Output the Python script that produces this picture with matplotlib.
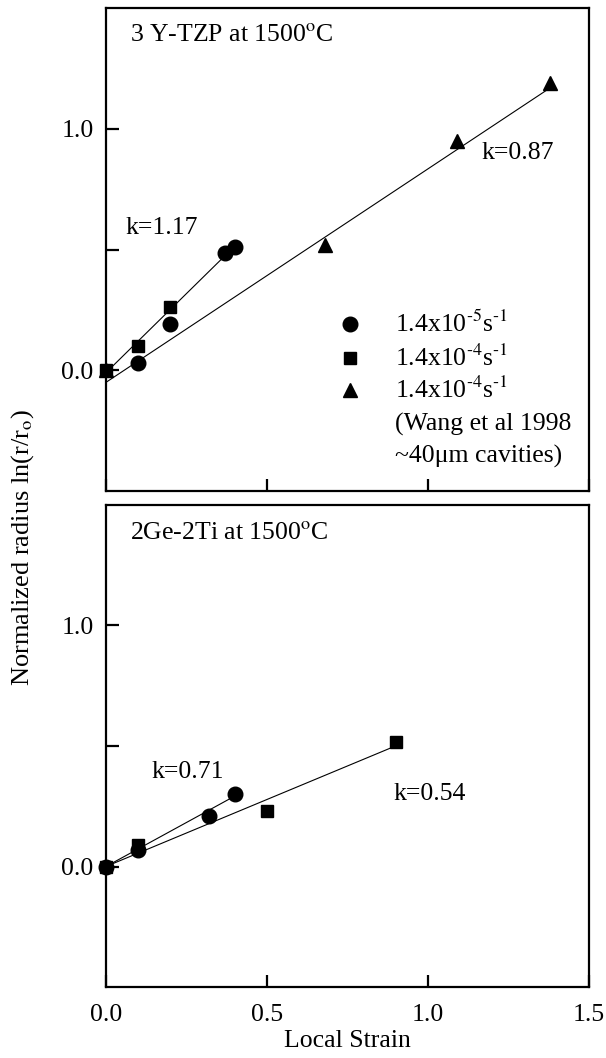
import matplotlib
matplotlib.use("Agg")
import matplotlib.pyplot as plt

plt.rcParams['font.family'] = ['Liberation Serif', 'DejaVu Serif']
plt.rcParams['mathtext.fontset'] = 'stix'

# ---- Data: top panel (3 Y-TZP) ----
top_circ_x = [0.10, 0.20, 0.37, 0.40]
top_circ_y = [0.03, 0.19, 0.485, 0.51]
top_sq_x = [0.0, 0.10, 0.20]
top_sq_y = [0.0, 0.10, 0.26]
top_tri_x = [0.0, 0.68, 1.09, 1.38]
top_tri_y = [0.0, 0.52, 0.95, 1.19]
top_fit1_x = [0.0, 0.37]      # k=1.17
top_fit1_y = [-0.01, 0.475]
top_fit2_x = [0.0, 1.38]      # k=0.87
top_fit2_y = [-0.05, 1.17]

# ---- Data: bottom panel (2Ge-2Ti) ----
bot_circ_x = [0.0, 0.10, 0.32, 0.40]
bot_circ_y = [0.0, 0.07, 0.21, 0.30]
bot_sq_x = [0.0, 0.10, 0.50, 0.90]
bot_sq_y = [0.0, 0.09, 0.23, 0.515]
bot_fit1_x = [0.0, 0.39]      # k=0.71
bot_fit1_y = [0.0, 0.285]
bot_fit2_x = [0.0, 0.89]      # k=0.54
bot_fit2_y = [0.0, 0.495]

legend_labels = [r"1.4x10$^{\text{-5}}$s$^{\text{-1}}$", r"1.4x10$^{\text{-4}}$s$^{\text{-1}}$",
                 r"1.4x10$^{\text{-4}}$s$^{\text{-1}}$",
                 "(Wang et al 1998", "~40\u03bcm cavities)"]

xticks = [0.0, 0.5, 1.0, 1.5]
xticklabels = ["0.0", "0.5", "1.0", "1.5"]
yticks = [0.0, 0.5, 1.0]
yticklabels = ["0.0", "", "1.0"]

FS = 18.5
fig = plt.figure(figsize=(6.06, 10.58), dpi=100)
ax1 = fig.add_axes([0.1749, 0.5359, 0.797, 0.4565])
ax2 = fig.add_axes([0.1749, 0.0671, 0.797, 0.4556])

ms_c, ms_s, ms_t = 10.5, 8.5, 9.5
lw_fit = 0.8

for ax in (ax1, ax2):
    ax.set_xlim(0, 1.5)
    ax.set_ylim(-0.5, 1.5)
    for s in ax.spines.values():
        s.set_linewidth(1.6)
    ax.set_yticks(yticks)
    ax.set_yticklabels(yticklabels, fontsize=FS)
    ax.set_xticks(xticks)
    ax.tick_params(direction='in', length=9, width=1.6, top=False, right=False, pad=9)

ax1.set_xticklabels([])
ax2.set_xticklabels(xticklabels, fontsize=FS)
ax2.tick_params(axis='x', pad=12)

# top panel
ax1.plot(top_fit1_x, top_fit1_y, color='black', lw=lw_fit, clip_on=False)
ax1.plot(top_fit2_x, top_fit2_y, color='black', lw=lw_fit, clip_on=False)
ax1.plot(top_tri_x, top_tri_y, '^', color='black', ms=ms_t, ls='none', clip_on=False)
ax1.plot(top_sq_x, top_sq_y, 's', color='black', ms=ms_s, ls='none', clip_on=False)
ax1.plot(top_circ_x, top_circ_y, 'o', color='black', ms=ms_c, ls='none', clip_on=False)
ax1.text(0.075, 1.39, r"3 Y-TZP at 1500$^{\mathrm{o}}$C", fontsize=FS, ha='left', va='center')
ax1.text(0.062, 0.59, "k=1.17", fontsize=FS, ha='left', va='center')
ax1.text(1.167, 0.90, "k=0.87", fontsize=FS, ha='left', va='center')

# legend (manual)
leg_mx, leg_tx = 0.758, 0.898
leg_rows = [0.19, 0.05, -0.08, -0.223, -0.355]
ax1.plot([leg_mx], [leg_rows[0]], 'o', color='black', ms=ms_c)
ax1.plot([leg_mx], [leg_rows[1]], 's', color='black', ms=ms_s)
ax1.plot([leg_mx], [leg_rows[2]], '^', color='black', ms=ms_t)
for yy, lab in zip(leg_rows, legend_labels):
    ax1.text(leg_tx, yy, lab, fontsize=FS, ha='left', va='center')

# bottom panel
ax2.plot(bot_fit1_x, bot_fit1_y, color='black', lw=lw_fit, clip_on=False)
ax2.plot(bot_fit2_x, bot_fit2_y, color='black', lw=lw_fit, clip_on=False)
ax2.plot(bot_sq_x, bot_sq_y, 's', color='black', ms=ms_s, ls='none', clip_on=False)
ax2.plot(bot_circ_x, bot_circ_y, 'o', color='black', ms=ms_c, ls='none', clip_on=False)
ax2.text(0.075, 1.385, r"2Ge-2Ti at 1500$^{\mathrm{o}}$C", fontsize=FS, ha='left', va='center')
ax2.text(0.142, 0.394, "k=0.71", fontsize=FS, ha='left', va='center')
ax2.text(0.892, 0.30, "k=0.54", fontsize=FS, ha='left', va='center')

ax2.set_xlabel("Local Strain", fontsize=FS, labelpad=3)
fig.text(0.038, 0.482, r"Normalized radius ln(r/r$_{\mathrm{o}}$)", fontsize=19,
         rotation=90, ha='center', va='center')

fig.savefig("out.png", dpi=100)
